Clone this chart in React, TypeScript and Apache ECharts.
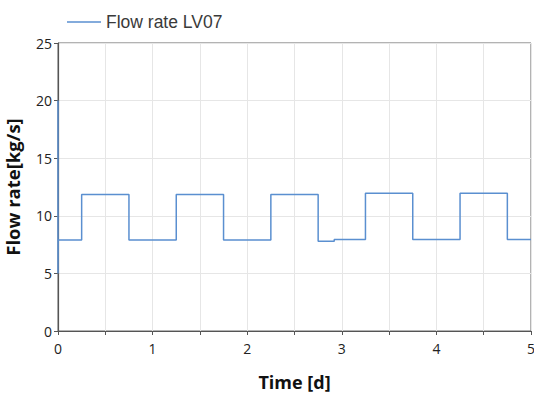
import React, { useEffect, useRef } from "react";
import * as echarts from "echarts";

// Time [d] breakpoints and flow rate [kg/s] of the LV07 valve (step signal)
const times: number[] = [0, 0, 0.002, 0.25, 0.25, 0.75, 0.75, 1.25, 1.25, 1.75, 1.75, 2.25, 2.25, 2.75, 2.75, 2.92, 2.92, 3.25, 3.25, 3.75, 3.75, 4.25, 4.25, 4.75, 4.75, 5];
const flow: number[] = [20, 5, 7.9, 7.9, 11.85, 11.85, 7.9, 7.9, 11.85, 11.85, 7.9, 7.9, 11.85, 11.85, 7.8, 7.8, 7.95, 7.95, 11.95, 11.95, 7.95, 7.95, 11.95, 11.95, 7.95, 7.95];

const seriesName = "Flow rate LV07";
const xTitle = "Time [d]";
const yTitle = "Flow rate[kg/s]";

export default function App() {
  const ref = useRef<HTMLDivElement>(null);

  useEffect(() => {
    if (!ref.current) return;
    const chart = echarts.init(ref.current, undefined, { renderer: "svg" });
    const data = times.map((t, i) => [t, flow[i]]);
    chart.setOption({
      animation: false,
      backgroundColor: "#ffffff",
      textStyle: { fontFamily: "Noto Sans" },
      legend: {
        show: true,
        left: 62,
        top: 8,
        icon: "rect",
        itemWidth: 34,
        itemHeight: 1.5,
        textStyle: { fontFamily: "Liberation Sans", fontSize: 17.5, color: "#3a3a3a" },
        data: [seriesName],
      },
      grid: {
        left: 58,
        top: 43,
        right: 3,
        bottom: 68,
        outerBoundsMode: "none",
        containLabel: false,
        show: true,
        borderColor: "#666666",
        borderWidth: 1,
        backgroundColor: "transparent",
      },
      xAxis: {
        type: "value",
        min: 0,
        max: 5,
        interval: 0.5,
        name: xTitle,
        nameLocation: "middle",
        nameGap: 42,
        nameTextStyle: { fontFamily: "Open Sans", fontWeight: "bold", fontSize: 18, color: "#111" },
        axisLine: { show: true, onZero: false, lineStyle: { color: "#555", width: 1.2 } },
        axisTick: { show: true, length: 4, lineStyle: { color: "#555" } },
        axisLabel: {
          margin: 10,
          fontSize: 14,
          color: "#222",
          fontFamily: "Open Sans",
          hideOverlap: false,
          showMaxLabel: true,
          formatter: (v: number) => (Number.isInteger(v) ? String(v) : ""),
        },
        splitLine: { show: true, lineStyle: { color: "#e6e6e6", width: 1 } },
      },
      yAxis: {
        type: "value",
        min: 0,
        max: 25,
        interval: 5,
        name: yTitle,
        nameLocation: "middle",
        nameGap: 36,
        nameTextStyle: { fontFamily: "Open Sans", fontWeight: "bold", fontSize: 18.5, color: "#111" },
        axisLine: { show: true, lineStyle: { color: "#555", width: 1.2 } },
        axisTick: { show: true, length: 4, lineStyle: { color: "#555" } },
        axisLabel: { margin: 6, fontSize: 14, color: "#222", fontFamily: "Open Sans" },
        splitLine: { show: true, lineStyle: { color: "#e6e6e6", width: 1 } },
      },
      series: [
        {
          name: seriesName,
          type: "line",
          data,
          showSymbol: false,
          symbol: "none",
          lineStyle: { color: "#5a8fd0", width: 1.5 },
          itemStyle: { color: "#5a8fd0" },
        },
      ],
    });
    return () => chart.dispose();
  }, []);

  return <div ref={ref} style={{ width: 534, height: 399, position: "absolute", left: 0, top: 0 }} />;
}
